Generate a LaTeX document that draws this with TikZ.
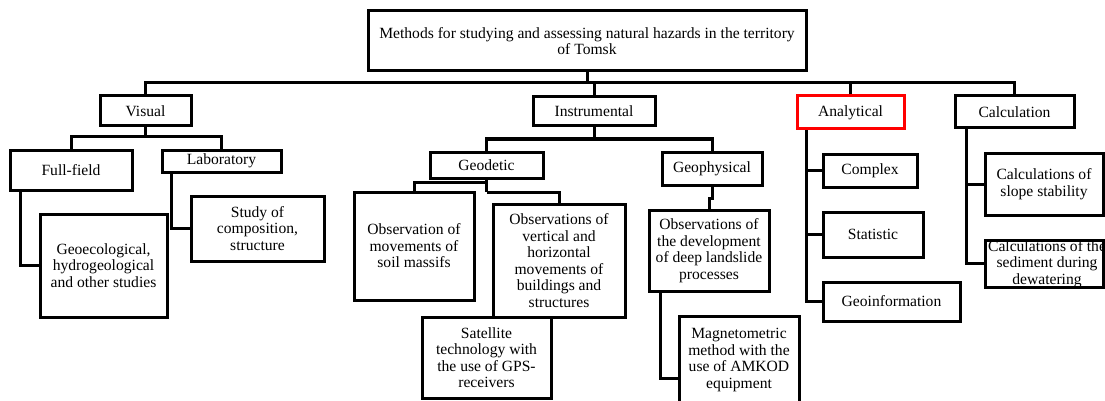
\documentclass[tikz,border=0pt]{standalone}
\usepackage{fontspec}
\setmainfont{Liberation Serif}
\usetikzlibrary{calc}
\begin{document}
\begin{tikzpicture}[x=1pt,y=-1pt,
  every node/.style={font=\fontsize{15.6}{16.5}\selectfont},
  box/.style={draw=black, line width=3pt, inner sep=0pt, align=center, rectangle},
  redbox/.style={box, draw=red},
  txt/.style={inner sep=0pt, align=center},
  conn/.style={draw=black, line width=3pt, line join=miter}]
\useasboundingbox (0,0) rectangle (1105,401);
\clip (0,0) rectangle (1105,401);
% top
\node[box, minimum width=438, minimum height=60] (title) at (587,41) {Methods for studying and assessing natural hazards in the territory\\of Tomsk};
% level 1
\node[box, minimum width=91, minimum height=30] (visual) at (145.5,111) {Visual};
\node[box, minimum width=122, minimum height=29] (instr) at (594,111.5) {Instrumental};
\node[redbox, minimum width=107, minimum height=33] (analyt) at (850.5,112.5) {Analytical};
\node[box, minimum width=119, minimum height=32] (calc) at (1014.5,112) {Calculation};
% level 2
\node[box, minimum width=122, minimum height=40] (full) at (71,170) {Full-field};
\node[box, minimum width=119, minimum height=22] (lab) at (221.5,161) {Laboratory};
\node[box, minimum width=113, minimum height=26] (geod) at (486.5,165) {Geodetic};
\node[box, minimum width=100, minimum height=33] (geoph) at (712,168.5) {Geophysical};
\node[box, minimum width=94, minimum height=33] (complex) at (870,170.5) {Complex};
\node[box, minimum width=100, minimum height=45] (stat) at (873,234.5) {Statistic};
\node[box, minimum width=137, minimum height=39] (geoinfo) at (891.5,301.5) {Geoinformation};
\node[box, minimum width=118, minimum height=62] (slope) at (1044,184) {Calculations of\\slope stability};
\node[box, minimum width=118, minimum height=47] (sed) at (1044,263.5) {};
\node[txt] (sedtxt) at (1047,264) {Calculations of the\\sediment during\\dewatering};
% level 3
\node[box, minimum width=127, minimum height=103] (geoeco) at (103.5,265.5) {Geoecological,\\hydrogeological\\and other studies};
\node[box, minimum width=133, minimum height=65] (study) at (257.5,228.5) {Study of\\composition,\\structure};
\node[box, minimum width=120, minimum height=108] (obssoil) at (414,246) {Observation of\\movements of\\soil massifs};
\node[box, minimum width=132, minimum height=113] (obsvert) at (559,260.5) {Observations of\\vertical and\\horizontal\\movements of\\buildings and\\structures};
\node[box, minimum width=129, minimum height=81] (sat) at (486.5,357.5) {Satellite\\technology with\\the use of GPS-\\receivers};
\node[box, minimum width=120, minimum height=81] (obsdeep) at (709,250.5) {Observations of\\the development\\of deep landslide\\processes};
\node[box, minimum width=120, minimum height=88] (magnet) at (739,360) {Magnetometric\\method with the\\use of AMKOD\\equipment};
% connectors: top bus
\coordinate (bus) at (587,83);
\draw[conn] (title.south) -- (bus);
\draw[conn] (visual.north) |- (bus);
\draw[conn] (instr.north) |- (bus);
\draw[conn] (analyt.north) |- (bus);
\draw[conn] (calc.north) |- (bus);
% visual
\coordinate (vb) at (145.5,137);
\draw[conn] (visual.south) -- (vb);
\draw[conn] (full.north) |- (vb);
\draw[conn] (lab.north) |- (vb);
\draw[conn] ($(full.south west)+(12,0)$) |- (geoeco.west);
\draw[conn] ($(lab.south west)+(11,0)$) |- (study.west);
% instrumental
\coordinate (ib) at (594,139);
\draw[conn] (instr.south) -- (ib);
\draw[conn] (geod.north) |- (ib);
\draw[conn] (geoph.north) |- (ib);
\coordinate (g1) at (486.5,182);
\coordinate (g2) at (486.5,192);
\draw[conn] (geod.south) -- (g2);
\draw[conn] (obssoil.north) |- (g1);
\draw[conn] (obsvert.north) |- (g2);
\draw[conn] (geoph.south) -- ++(0,12) -| (obsdeep.north);
\draw[conn] ($(obsdeep.south west)+(13,0)$) |- ($(magnet.south west)+(0,-27)$);
% analytical
\coordinate (at) at ($(analyt.south west)+(11,0)$);
\draw[conn] (at) |- (geoinfo.west);
\draw[conn] (complex.west) -- (complex.west -| at);
\draw[conn] (stat.west) -- (stat.west -| at);
% calculation
\coordinate (ct) at ($(calc.south west)+(13,0)$);
\draw[conn] (ct) |- (sed.west);
\draw[conn] (slope.west) -- (slope.west -| ct);
\end{tikzpicture}
\end{document}
